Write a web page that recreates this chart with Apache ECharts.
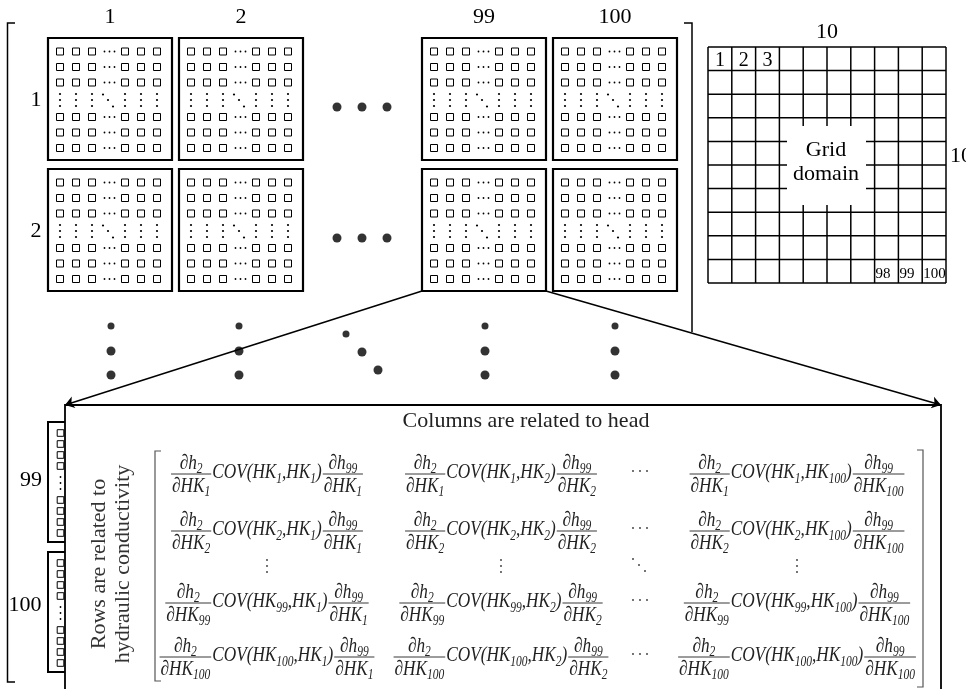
<!DOCTYPE html>
<html><head><meta charset="utf-8">
<script src="https://cdn.jsdelivr.net/npm/echarts@6/dist/echarts.min.js"></script>
<style>html,body{margin:0;padding:0;background:#fff}#c{width:966px;height:689px}</style>
</head><body><div id="c"></div>
<script>
// ---------------- data (structure of the diagram) ----------------
const blockColumns = ['1', '2', '99', '100'];
const blockRows = ['1', '2'];
const gridCount = 10;
const gridFirstCells = ['1', '2', '3'];
const gridLastCells = ['98', '99', '100'];
const gridCenterText = ['Grid', 'domain'];
const stripLabels = ['99', '100'];
const matrixRowIndex = ['1', '2', '⋮', '99', '100'];
const matrixColIndex = ['1', '2', '⋯', '100'];
const headIndex = ['2', '99'];
const titleText = 'Columns are related to head';
const rowsText = ['Rows are related to', 'hydraulic conductivity'];

// ---------------- layout (positions / sizes / styles) ----------------
const L = {
  block: { x: [48, 179, 422, 553], y: [38, 169], w: 124, h: 122, lw: 2.2,
    sqX: [12, 28, 44, 77, 93, 109], sqY: [13.5, 29, 44.5, 79, 94.5, 110], sq: 7,
    hEll: [56.5, 61.5, 66.5], vEll: [56, 62, 68], diag: [[55, 56.5], [60, 62], [65, 68.5]], dotR: 1.1 },
  colLabelY: 17, rowLabelX: 36, labelFont: '22px "Liberation Serif"',
  bigDots: { rowX: [337, 362, 387], rowY: [107, 238], colX: [111, 239, 485, 615], colY: [326, 351, 375],
    diag: [[346, 334], [362, 352], [378, 370]], small: 7, big: 9 },
  outerBracket: { x: 7.5, tick: 15, top: 23, bottom: 682 },
  innerBracket: { x: 692, tick: 684, top: 23, bottom: 332 },
  panel: { l: 65, t: 405, r: 941, b: 720, lw: 1.8 },
  zoomFrom: { col: 2, row: 1 },
  strip: { l: 48, top: [422, 552], h: 120, sqX: 60.5, sq: 6.6, sqY: [11, 22, 33, 44, 78, 89, 100, 111],
    ellY: [55, 61, 67], labelX: [31, 25], labelY: [480, 605] },
  grid: { x0: 708, x1: 946, y0: 47, y1: 283, lw: 1.5, hole: [787, 126, 866, 205],
    topLabelY: 32, rightLabelX: 950, rightLabelY: 156, textX: 826, textY: [150, 174] },
  title: { x: 526, y: 421 },
  rowsText: { x: [99, 123], y: 564, font: '22px "Liberation Serif"' },
  matrix: { colX: [267, 501, 640, 797], rowY: [474, 531, 566, 603, 657],
    lb: { x: 155, tick: 161, top: 451, bottom: 681 }, rb: { x: 923, tick: 917, top: 450, bottom: 687 },
    mf: 'italic 21px "Liberation Serif"', sf: 'italic 14px "Liberation Serif"', sx: 0.82, color: '#222',
    off: { num: -11, numSub: -5, den: 12, denSub: 18, cov: -1.5, covSub: 5 } }
};

// ---------------- helpers ----------------
const mctx = document.createElement('canvas').getContext('2d');
function tw(t, f) { mctx.font = f; return mctx.measureText(t).width * L.matrix.sx; }
function T(x, y, text, font, align, va, fill, extra) {
  return Object.assign({ type: 'text', x: x, y: y, style: { x: 0, y: 0, text: text, font: font,
    fill: fill || '#000', textAlign: align || 'center', textVerticalAlign: va || 'middle',
    align: align || 'center', verticalAlign: va || 'middle' } }, extra || {});
}
function PL(pts, lw, color) {
  return { type: 'polyline', shape: { points: pts }, style: { fill: 'none', stroke: color || '#000', lineWidth: lw } };
}
function DOT(c, r, color) { return { type: 'circle', shape: { cx: c[0], cy: c[1], r: r }, style: { fill: color || '#000' } }; }
function SQ(c, s, lw) {
  return { type: 'rect', shape: { x: c[0] - s / 2, y: c[1] - s / 2, width: s, height: s },
    style: { fill: '#fff', stroke: '#000', lineWidth: lw || 1 } };
}

// --------- blocks ---------
const blockData = [];
blockRows.forEach((r, ri) => blockColumns.forEach((c, ci) => blockData.push([ci, ri])));
function renderBlock(params, api) {
  const C = (x, y) => api.coord([x, y]);
  const B = L.block, ci = api.value(0), ri = api.value(1);
  const x = B.x[ci], y = B.y[ri];
  const p0 = C(x, y), p1 = C(x + B.w, y + B.h);
  const ch = [{ type: 'rect', shape: { x: p0[0], y: p0[1], width: p1[0] - p0[0], height: p1[1] - p0[1] },
    style: { fill: '#fff', stroke: '#000', lineWidth: B.lw } }];
  B.sqY.forEach(dy => {
    B.sqX.forEach(dx => ch.push(SQ(C(x + dx, y + dy), B.sq, 1)));
    B.hEll.forEach(dx => ch.push(DOT(C(x + dx, y + dy), 0.9)));
  });
  B.sqX.forEach(dx => B.vEll.forEach(dy => ch.push(DOT(C(x + dx, y + dy), B.dotR))));
  B.diag.forEach(d => ch.push(DOT(C(x + d[0], y + d[1]), B.dotR)));
  return { type: 'group', children: ch };
}

// --------- labels over / beside blocks ---------
function renderBlockLabels(params, api) {
  const C = (x, y) => api.coord([x, y]);
  const ch = [];
  blockColumns.forEach((c, ci) => { const p = C(L.block.x[ci] + L.block.w / 2, L.colLabelY); ch.push(T(p[0], p[1], c, L.labelFont)); });
  blockRows.forEach((r, ri) => { const p = C(L.rowLabelX, L.block.y[ri] + L.block.h / 2 + 1); ch.push(T(p[0], p[1], r, L.labelFont)); });
  stripLabels.forEach((s, si) => { const p = C(L.strip.labelX[si], L.strip.labelY[si]); ch.push(T(p[0], p[1], s, L.labelFont)); });
  return { type: 'group', children: ch };
}

// --------- brackets, panel ---------
function renderFrame(params, api) {
  const C = (x, y) => api.coord([x, y]);
  const o = L.outerBracket, ib = L.innerBracket, P = L.panel, M = L.matrix;
  const ch = [];
  ch.push(PL([C(o.tick, o.top), C(o.x, o.top), C(o.x, o.bottom), C(o.tick, o.bottom)], 1.5));
  ch.push(PL([C(ib.tick, ib.top), C(ib.x, ib.top), C(ib.x, ib.bottom)], 1.5));
  ch.push(PL([C(P.l, P.b), C(P.l, P.t), C(P.r, P.t), C(P.r, P.b)], P.lw));
  ch.push(PL([C(M.lb.tick, M.lb.top), C(M.lb.x, M.lb.top), C(M.lb.x, M.lb.bottom), C(M.lb.tick, M.lb.bottom)], 1.2, '#555'));
  ch.push(PL([C(M.rb.tick, M.rb.top), C(M.rb.x, M.rb.top), C(M.rb.x, M.rb.bottom), C(M.rb.tick, M.rb.bottom)], 1.2, '#555'));
  let p = C(L.title.x, L.title.y);
  ch.push(T(p[0], p[1], titleText, '22px "Liberation Serif"', 'center', 'middle', '#222'));
  rowsText.forEach((t, k) => {
    const q = C(L.rowsText.x[k], L.rowsText.y);
    ch.push(T(q[0], q[1], t, L.rowsText.font, 'center', 'middle', '#333', { rotation: Math.PI / 2 }));
  });
  return { type: 'group', children: ch };
}

// --------- strips (rows 99 / 100 of the zoomed block) ---------
function renderStrip(params, api) {
  const C = (x, y) => api.coord([x, y]);
  const S = L.strip, si = params.dataIndex, top = S.top[si], bot = top + S.h;
  const ch = [PL([C(L.panel.l, top), C(S.l, top), C(S.l, bot), C(L.panel.l, bot)], 2)];
  S.sqY.forEach(dy => ch.push(SQ(C(S.sqX, top + dy), S.sq, 1)));
  S.ellY.forEach(dy => ch.push(DOT(C(S.sqX, top + dy), 0.9)));
  return { type: 'group', children: ch };
}

// --------- grid domain ---------
function renderGrid(params, api) {
  const C = (x, y) => api.coord([x, y]);
  const G = L.grid, cw = (G.x1 - G.x0) / gridCount, chh = (G.y1 - G.y0) / gridCount;
  const ch = [];
  for (let k = 0; k <= gridCount; k++) {
    const a = C(G.x0 + k * cw, G.y0), b = C(G.x0 + k * cw, G.y1);
    ch.push({ type: 'line', shape: { x1: a[0], y1: a[1], x2: b[0], y2: b[1] }, style: { stroke: '#000', lineWidth: G.lw } });
    const c = C(G.x0, G.y0 + k * chh), d = C(G.x1, G.y0 + k * chh);
    ch.push({ type: 'line', shape: { x1: c[0], y1: c[1], x2: d[0], y2: d[1] }, style: { stroke: '#000', lineWidth: G.lw } });
  }
  const h0 = C(G.hole[0], G.hole[1]), h1 = C(G.hole[2], G.hole[3]);
  ch.push({ type: 'rect', shape: { x: h0[0], y: h0[1], width: h1[0] - h0[0], height: h1[1] - h0[1] }, style: { fill: '#fff' } });
  gridCenterText.forEach((t, k) => { const p = C(G.textX, G.textY[k]); ch.push(T(p[0], p[1], t, '22px "Liberation Serif"')); });
  gridFirstCells.forEach((t, k) => { const p = C(G.x0 + (k + 0.5) * cw, G.y0 + chh * 0.5 + 2); ch.push(T(p[0], p[1], t, '20px "Liberation Serif"')); });
  gridLastCells.forEach((t, k) => {
    const p = C(G.x0 + (gridCount - gridLastCells.length + k) * cw + 1, G.y1 - chh * 0.5 + 3);
    ch.push(T(p[0], p[1], t, '15px "Liberation Serif"', 'left'));
  });
  let p = C((G.x0 + G.x1) / 2, G.topLabelY); ch.push(T(p[0], p[1], String(gridCount), '22px "Liberation Serif"'));
  p = C(G.rightLabelX, G.rightLabelY); ch.push(T(p[0], p[1], String(gridCount), '22px "Liberation Serif"', 'left'));
  return { type: 'group', children: ch };
}

// --------- matrix ---------
const matrixData = [];
matrixRowIndex.forEach((r, ri) => matrixColIndex.forEach((c, ci) => matrixData.push([ri, ci])));
function entryParts(i, j) {
  const M = L.matrix, o = M.off, items = [], bars = [];
  let x = 0;
  function frac(na, ns, da, ds) {
    const nw = tw(na, M.mf) + tw(ns, M.sf), dw = tw(da, M.mf) + tw(ds, M.sf), w = Math.max(nw, dw) + 2;
    items.push({ t: na, f: M.mf, dx: x + (w - nw) / 2, dy: o.num });
    items.push({ t: ns, f: M.sf, dx: x + (w - nw) / 2 + tw(na, M.mf), dy: o.numSub });
    items.push({ t: da, f: M.mf, dx: x + (w - dw) / 2, dy: o.den });
    items.push({ t: ds, f: M.sf, dx: x + (w - dw) / 2 + tw(da, M.mf), dy: o.denSub });
    bars.push({ dx: x, w: w });
    x += w;
  }
  frac('∂h', headIndex[0], '∂HK', i);
  x += 1;
  [['COV(HK', M.mf], [i, M.sf], [',HK', M.mf], [j, M.sf], [')', M.mf]].forEach(s => {
    items.push({ t: s[0], f: s[1], dx: x, dy: s[1] === M.mf ? o.cov : o.covSub });
    x += tw(s[0], s[1]);
  });
  x += 1;
  frac('∂h', headIndex[1], '∂HK', j);
  return { w: x, items: items, bars: bars };
}
function renderMatrix(params, api) {
  const C = (x, y) => api.coord([x, y]);
  const M = L.matrix, ri = api.value(0), ci = api.value(1);
  const rIdx = matrixRowIndex[ri], cIdx = matrixColIndex[ci];
  const cx = M.colX[ci], y0 = M.rowY[ri], ch = [];
  const rowEll = rIdx === '⋮', colEll = cIdx === '⋯';
  if (rowEll && colEll) {
    [[-7, -7], [-1, -1], [5, 5]].forEach(d => ch.push(DOT(C(cx + d[0], y0 + d[1]), 0.9, '#333')));
  } else if (rowEll) {
    [-6, 0, 6].forEach(d => ch.push(DOT(C(cx, y0 + d), 0.9, '#333')));
  } else if (colEll) {
    [-7, 0, 7].forEach(d => ch.push(DOT(C(cx + d, y0 - 3), 0.9, '#333')));
  } else {
    const e = entryParts(rIdx, cIdx), left = cx - e.w / 2;
    e.items.forEach(it => { const p = C(left + it.dx, y0 + it.dy);
      ch.push(T(p[0], p[1], it.t, it.f, 'left', 'middle', M.color, { scaleX: M.sx })); });
    e.bars.forEach(b => {
      const a = C(left + b.dx, y0), c = C(left + b.dx + b.w, y0);
      ch.push({ type: 'line', shape: { x1: a[0], y1: a[1], x2: c[0], y2: c[1] }, style: { stroke: M.color, lineWidth: 0.9 } });
    });
  }
  return { type: 'group', children: ch };
}

// --------- big ellipsis dots ---------
const bigDotData = [];
const D = L.bigDots;
D.rowY.forEach(y => D.rowX.forEach(x => bigDotData.push([x, y, D.big])));
D.colX.forEach(x => D.colY.forEach((y, k) => bigDotData.push([x, y, k === 0 ? D.small : D.big])));
D.diag.forEach((d, k) => bigDotData.push([d[0], d[1], k === 0 ? D.small : D.big]));

// --------- zoom arrows (from block row 2 / col 99 to the panel) ---------
const zb = L.block, zc = L.zoomFrom.col, zr = L.zoomFrom.row;
const arrowData = [
  { coords: [[zb.x[zc], zb.y[zr] + zb.h], [L.panel.l, L.panel.t]] },
  { coords: [[zb.x[zc] + zb.w, zb.y[zr] + zb.h], [L.panel.r, L.panel.t]] }
];

const chart = echarts.init(document.getElementById('c'));
chart.setOption({
  animation: false,
  backgroundColor: '#fff',
  grid: { left: 0, right: 0, top: 0, bottom: 0 },
  xAxis: { type: 'value', min: 0, max: 966, show: false },
  yAxis: { type: 'value', min: 0, max: 689, inverse: true, show: false },
  series: [
    { type: 'custom', name: 'frame', silent: true, z: 1, data: [[0, 0]], renderItem: renderFrame },
    { type: 'custom', name: 'blocks', silent: true, z: 2, data: blockData, renderItem: renderBlock },
    { type: 'custom', name: 'labels', silent: true, z: 2, data: [[0, 0]], renderItem: renderBlockLabels },
    { type: 'custom', name: 'strips', silent: true, z: 2, data: stripLabels.map((s, k) => [k, 0]), renderItem: renderStrip },
    { type: 'custom', name: 'grid', silent: true, z: 2, data: [[0, 0]], renderItem: renderGrid },
    { type: 'custom', name: 'matrix', silent: true, z: 2, data: matrixData, renderItem: renderMatrix },
    { type: 'scatter', name: 'dots', silent: true, z: 3, data: bigDotData, symbol: 'circle',
      symbolSize: v => v[2], itemStyle: { color: '#000' } },
    { type: 'lines', name: 'arrows', coordinateSystem: 'cartesian2d', silent: true, z: 3,
      symbol: ['none', 'arrow'], symbolSize: 9,
      lineStyle: { color: '#000', width: 1.5, opacity: 1, curveness: 0 }, data: arrowData }
  ]
});
</script>
</body></html>
